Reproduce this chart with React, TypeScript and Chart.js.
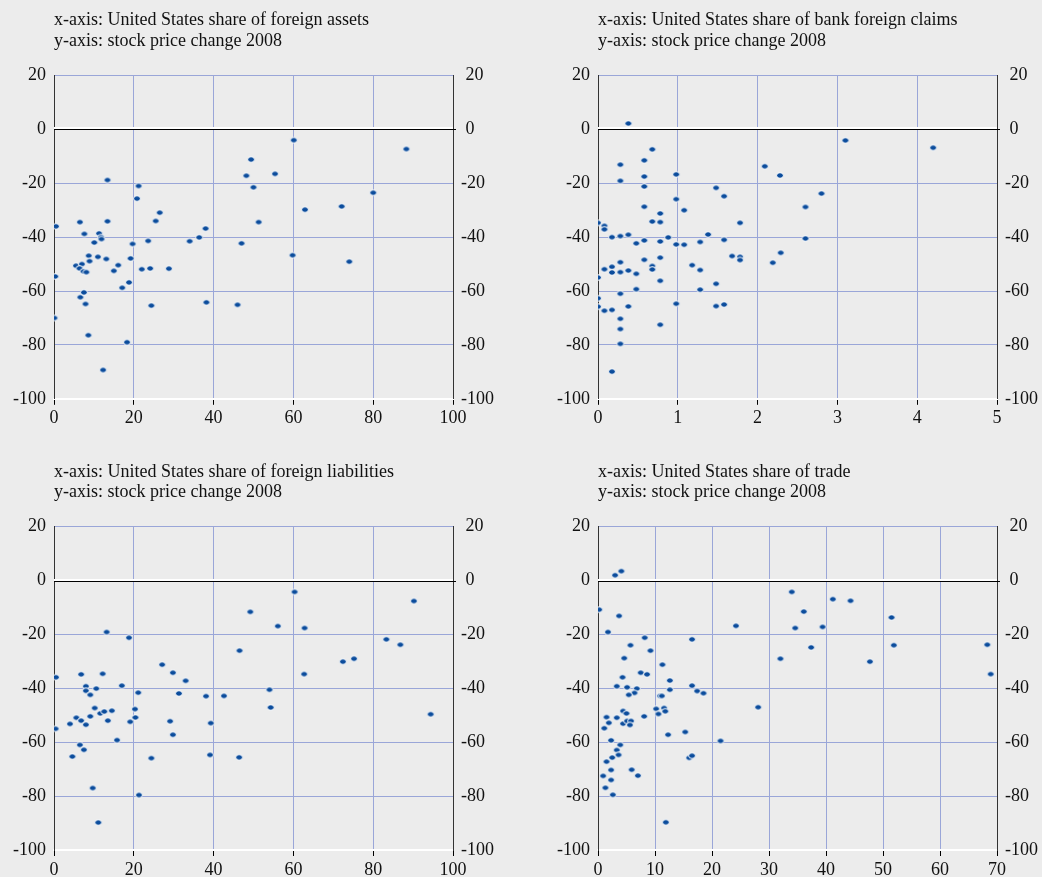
import React, { useEffect, useRef } from "react";
import { Chart, registerables } from "chart.js";

Chart.register(...registerables);

// ---------------- data ----------------
const Y_MIN = -100;
const Y_MAX = 20;
const Y_STEP = 20;

const titleY = "y-axis: stock price change 2008";

const assetsTitle = "x-axis: United States share of foreign assets";
const assetsX = [0.5, 0.3, 0.1, 6.5, 7.6, 5.5, 7.0, 6.4, 7.4, 8.1, 8.7, 8.9, 6.6, 7.5, 7.9, 8.6, 10.1, 11.3, 11.8, 11.9, 11.0, 13.1, 13.4, 13.4, 15.0, 16.1, 17.1, 18.3, 18.8, 12.3, 19.2, 19.7, 20.8, 21.2, 22.0, 24.1, 23.6, 24.4, 25.5, 26.5, 28.8, 34.0, 36.4, 38.0, 38.2, 46.0, 47.0, 48.2, 49.4, 50.0, 51.3, 60.1, 55.4, 62.9, 72.1, 80.0, 88.3, 59.8, 74.0];
const assetsY = [-36, -54.6, -70, -34.4, -38.8, -50.6, -50, -51.6, -52.7, -53, -46.9, -48.9, -62.3, -60.5, -64.8, -76.4, -42, -38.6, -40, -40.7, -47.3, -48.1, -18.8, -34.1, -52.5, -50.4, -58.8, -79, -56.8, -89.3, -47.9, -42.5, -25.7, -21, -51.9, -51.6, -41.4, -65.4, -34, -30.9, -51.7, -41.5, -40.1, -36.8, -64.2, -65.1, -42.3, -17.2, -11.2, -21.5, -34.4, -4, -16.5, -29.8, -28.6, -23.5, -7.3, -46.7, -49.1];

const claimsTitle = "x-axis: United States share of bank foreign claims";
const claimsX = [0, 0, 0, 0, 0.08, 0.08, 0.08, 0.08, 0.175, 0.175, 0.175, 0.175, 0.175, 0.28, 0.28, 0.28, 0.28, 0.28, 0.28, 0.28, 0.28, 0.28, 0.38, 0.38, 0.38, 0.38, 0.48, 0.48, 0.48, 0.58, 0.58, 0.58, 0.58, 0.58, 0.58, 0.68, 0.68, 0.68, 0.68, 0.78, 0.78, 0.78, 0.78, 0.78, 0.78, 0.88, 0.98, 0.98, 0.98, 0.98, 1.08, 1.08, 1.18, 1.28, 1.28, 1.28, 1.38, 1.48, 1.48, 1.48, 1.58, 1.58, 1.58, 1.68, 1.78, 1.78, 1.78, 2.09, 2.28, 2.8, 2.6, 2.6, 2.29, 2.19, 3.1, 4.2];
const claimsY = [-34.7, -55, -62.7, -65.8, -35.8, -37.1, -51.9, -67.3, -40, -51, -53.1, -67, -89.9, -13.1, -19.1, -39.6, -49.3, -53, -61, -70.3, -74.1, -79.6, 2.2, -39.1, -52.4, -65.7, -42.3, -53.6, -59.3, -11.5, -17.5, -21.2, -28.7, -41.2, -48.4, -7.4, -34.2, -50.7, -52, -31.2, -34.4, -41.6, -47.6, -56.2, -72.5, -40.1, -16.7, -25.9, -42.7, -64.7, -30, -42.8, -50.4, -41.8, -52.2, -59.5, -39, -21.7, -57.3, -65.6, -24.8, -41, -65, -47, -34.7, -47.3, -48.5, -13.7, -17.1, -23.8, -28.8, -40.5, -45.8, -49.5, -4.1, -6.8];

const liabTitle = "x-axis: United States share of foreign liabilities";
const liabX = [0.5, 0.4, 4.0, 4.6, 5.6, 6.8, 6.5, 7.5, 6.8, 8.0, 8.0, 8.0, 9.1, 9.1, 9.7, 10.2, 10.6, 11.1, 11.6, 12.2, 12.6, 13.2, 13.5, 14.5, 15.8, 17.0, 18.8, 19.1, 20.3, 20.4, 21.1, 21.3, 24.4, 27.1, 29.1, 29.8, 29.8, 31.3, 33.0, 38.1, 39.3, 39.1, 42.6, 46.5, 46.4, 49.2, 60.3, 56.1, 62.8, 62.7, 72.4, 75.2, 83.3, 86.8, 90.2, 54.0, 54.3, 94.4];
const liabY = [-35.9, -55, -53.2, -65.3, -50.9, -52, -61, -62.8, -34.8, -39.2, -40.9, -53.5, -42.4, -50.4, -77, -47.3, -40.1, -89.8, -49.3, -34.6, -48.6, -19.1, -52, -48.3, -59.2, -39, -21.2, -52.4, -47.7, -50.8, -41.6, -79.6, -65.9, -31.2, -52.2, -34.2, -57.2, -41.9, -37.2, -42.9, -52.9, -64.7, -42.8, -26, -65.6, -11.6, -4.2, -16.9, -17.6, -34.7, -30.1, -29, -21.8, -23.8, -7.6, -40.5, -47.1, -49.6];

const tradeTitle = "x-axis: United States share of trade";
const tradeX = [0.2, 3.0, 4.1, 3.7, 1.75, 8.2, 5.7, 4.6, 9.2, 11.3, 7.5, 8.6, 4.3, 3.3, 5.1, 6.8, 6.4, 5.4, 10.9, 11.2, 12.6, 12.6, 16.5, 17.4, 18.5, 16.5, 1.5, 3.3, 1.9, 1.1, 4.4, 5.0, 4.4, 5.1, 5.8, 5.6, 8.1, 10.2, 10.6, 11.6, 11.8, 12.3, 15.3, 21.5, 2.3, 3.9, 3.3, 3.6, 2.5, 1.5, 2.3, 5.9, 7.0, 0.9, 2.3, 1.3, 2.6, 16.0, 16.5, 11.9, 24.2, 28.1, 32.0, 34.0, 34.6, 36.1, 37.4, 39.4, 41.2, 44.3, 47.7, 51.5, 51.9, 68.3, 68.9];
const tradeY = [-10.8, 2, 3.5, -13.1, -19.1, -21.2, -24, -28.8, -26, -31.2, -34.2, -34.8, -35.9, -39.2, -39.6, -40.1, -41.7, -42.4, -42.8, -42.8, -37.1, -40.5, -39, -41, -41.8, -21.8, -50.7, -50.9, -52.8, -54.8, -48.4, -49.3, -53.1, -52.1, -52.1, -53.6, -50.4, -47.6, -49.5, -47.3, -48.5, -57.2, -56.2, -59.5, -59.3, -61, -62.9, -64.7, -65.7, -67.2, -70.3, -70.2, -72.4, -72.5, -74, -76.9, -79.5, -65.8, -65, -89.7, -16.8, -47, -29, -4.2, -17.6, -11.5, -24.8, -17.2, -6.9, -7.5, -30.1, -13.7, -24, -23.8, -34.7];

// ---------------- styles / layout ----------------
const FONT = "'Liberation Serif', 'Times New Roman', Times, serif";
const GRID = "#9AA6D8";
const BG = "#ECECEC";
const DOT = "#0B4C9C";
const TEXT = "#111111";

type PanelCfg = {
  title: string[];
  xs: number[];
  ys: number[];
  xMax: number;
  xStep: number;
  left: number;
  top: number;
  w: number;
  h: number;
  leftW: number;
  rightW: number;
  titleTop: number;
  xAxisH: number;
};

const panels: PanelCfg[] = [
  { title: [assetsTitle, titleY], xs: assetsX, ys: assetsY, xMax: 100, xStep: 20, left: 0, top: 0, w: 540, h: 440, leftW: 54, rightW: 87, titleTop: 10.25, xAxisH: 41.2 },
  { title: [claimsTitle, titleY], xs: claimsX, ys: claimsY, xMax: 5, xStep: 1, left: 540, top: 0, w: 502, h: 440, leftW: 58, rightW: 45, titleTop: 10.25, xAxisH: 41.2 },
  { title: [liabTitle, titleY], xs: liabX, ys: liabY, xMax: 100, xStep: 20, left: 0, top: 440, w: 540, h: 437, leftW: 54, rightW: 87, titleTop: 21.45, xAxisH: 27 },
  { title: [tradeTitle, titleY], xs: tradeX, ys: tradeY, xMax: 70, xStep: 10, left: 540, top: 440, w: 502, h: 437, leftW: 58, rightW: 45, titleTop: 21.45, xAxisH: 27 },
];

function makeDot(): HTMLCanvasElement {
  const c = document.createElement("canvas");
  c.width = 10;
  c.height = 9;
  const d = c.getContext("2d")!;
  d.beginPath();
  d.ellipse(5, 4.5, 3.4, 2.8, 0, 0, Math.PI * 2);
  d.fillStyle = DOT;
  d.fill();
  d.lineWidth = 1;
  d.strokeStyle = "#FFFFFF";
  d.stroke();
  return c;
}

const zeroLine = {
  id: "zeroLine",
  beforeDatasetsDraw(chart: any) {
    const { ctx, chartArea } = chart;
    const yp = Math.round(chart.scales.y.getPixelForValue(0));
    ctx.save();
    ctx.fillStyle = "#FFFFFF";
    ctx.fillRect(chartArea.left, yp - 2, chartArea.right - chartArea.left, 2);
    ctx.fillStyle = "#000000";
    ctx.fillRect(chartArea.left, yp, chartArea.right - chartArea.left + 3, 1);
    ctx.restore();
  },
};

function Panel({ cfg }: { cfg: PanelCfg }) {
  const ref = useRef<HTMLCanvasElement>(null);
  useEffect(() => {
    if (!ref.current) return;
    const dot = makeDot();
    const tickFont = { family: FONT, size: 18, lineHeight: 1.2, weight: "normal" as const };
    const chart = new Chart(ref.current, {
      type: "scatter",
      data: {
        datasets: [
          {
            data: cfg.xs.map((x, i) => ({ x, y: cfg.ys[i] })),
            pointStyle: dot as any,
            pointRadius: 4,
            pointHoverRadius: 4,
            backgroundColor: DOT,
            borderColor: "#FFFFFF",
          },
        ],
      },
      options: {
        responsive: false,
        animation: false,
        events: [],
        layout: { padding: 0 },
        plugins: {
          legend: { display: false },
          tooltip: { enabled: false },
          title: {
            display: true,
            text: cfg.title,
            align: "start",
            fullSize: false,
            color: TEXT,
            font: { family: FONT, size: 18, lineHeight: 1.15, weight: "normal" },
            padding: { top: cfg.titleTop, bottom: 23.85 },
          },
        },
        scales: {
          x: {
            type: "linear",
            position: "bottom",
            min: 0,
            max: cfg.xMax,
            ticks: { stepSize: cfg.xStep, color: TEXT, font: tickFont, padding: 3, maxRotation: 0, autoSkip: false },
            grid: {
              color: (c: any) => (c.tick && (c.tick.value === 0 || c.tick.value === cfg.xMax) ? "rgba(0,0,0,0)" : GRID),
              tickColor: "#000000",
              tickLength: 6,
              lineWidth: 1,
            },
            border: { color: "#FFFFFF", width: 2 },
            afterFit: (s: any) => {
              s.height = cfg.xAxisH;
            },
          },
          y: {
            type: "linear",
            position: "left",
            min: Y_MIN,
            max: Y_MAX,
            ticks: { stepSize: Y_STEP, color: TEXT, font: tickFont, padding: 8 },
            grid: {
              color: (c: any) => (c.tick && (c.tick.value === 0 || c.tick.value === Y_MIN) ? "rgba(0,0,0,0)" : GRID),
              drawTicks: false,
              lineWidth: 1,
            },
            border: { color: "#333333", width: 1 },
            afterFit: (s: any) => {
              s.width = cfg.leftW;
            },
          },
          y2: {
            type: "linear",
            axis: "y",
            position: "right",
            min: Y_MIN,
            max: Y_MAX,
            ticks: {
              stepSize: Y_STEP,
              color: TEXT,
              font: tickFont,
              padding: 8,
              callback: (v: any) => (Number(v) < 0 ? String(v) : " " + String(v)),
            },
            grid: { drawOnChartArea: false, drawTicks: false },
            border: { color: "#333333", width: 1 },
            afterFit: (s: any) => {
              s.width = cfg.rightW;
            },
          },
        },
      } as any,
      plugins: [zeroLine],
    });
    return () => chart.destroy();
  }, [cfg]);
  return (
    <canvas
      ref={ref}
      width={cfg.w}
      height={cfg.h}
      style={{ position: "absolute", left: cfg.left, top: cfg.top, width: cfg.w, height: cfg.h }}
    />
  );
}

export default function App() {
  return (
    <div style={{ position: "absolute", left: 0, top: 0, width: 1042, height: 877, background: BG, overflow: "hidden" }}>
      {panels.map((p, i) => (
        <Panel key={i} cfg={p} />
      ))}
    </div>
  );
}
